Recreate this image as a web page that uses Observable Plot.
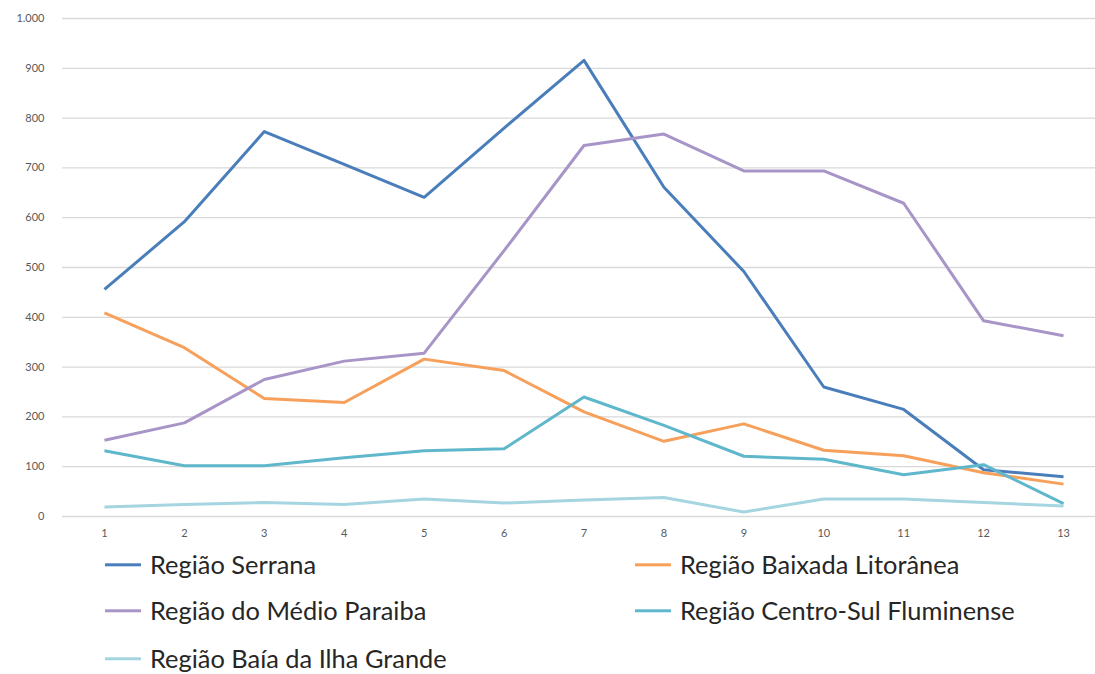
<!DOCTYPE html>
<html><head><meta charset="utf-8">
<script src="https://cdn.jsdelivr.net/npm/d3@7"></script>
<script src="https://cdn.jsdelivr.net/npm/@observablehq/plot@0.6"></script>
<style>
body{margin:0;background:#fff;font-family:Lato, "Open Sans", sans-serif;}
#chart svg{display:block;}
#legend{position:relative;height:129px;width:1095px;}
.item{position:absolute;display:flex;align-items:center;font-size:25.4px;color:#262626;line-height:1;white-space:nowrap;transform:translateY(-50%);}
.item .sw{display:inline-block;width:36px;height:3px;margin-right:9px;}
</style></head><body><div id="chart"></div><div id="legend"></div>
<script>
const periods = [1,2,3,4,5,6,7,8,9,10,11,12,13];
const seriesNames = ["Região Serrana","Região Baixada Litorânea","Região do Médio Paraiba","Região Centro-Sul Fluminense","Região Baía da Ilha Grande"];
const seriesColors = ["#4a7ebb","#f7a05b","#a895c8","#5fb7cc","#a5d5e0"];
const serrana = [456,592,773,707,641,780,916,661,492,260,215,94,80];
const baixada = [409,339,237,229,316,293,210,151,186,133,122,88,65];
const medioParaiba = [153,188,275,312,328,534,745,768,694,694,629,393,363];
const centroSul = [132,102,102,118,132,136,240,183,121,115,84,104,26];
const baiaIlhaGrande = [19,24,28,24,35,27,33,38,9,35,35,28,21];
const yTicks = [0,100,200,300,400,500,600,700,800,900,1000];

const seriesValues = [serrana, baixada, medioParaiba, centroSul, baiaIlhaGrande];
const data = seriesNames.flatMap((name, s) => seriesValues[s].map((v, i) => ({serie: name, periodo: periods[i], valor: v})));
const fmt = d3.formatLocale({decimal: ",", thousands: ".", grouping: [3], currency: ["R$", ""]}).format(",");

const chart = Plot.plot({
  width: 1095, height: 545,
  marginLeft: 62, marginRight: 0, marginTop: 18, marginBottom: 29,
  style: {fontFamily: "Lato, 'Open Sans', sans-serif", background: "#fff"},
  x: {type: "linear", domain: [0.5, 13.5], range: [64, 1103]},
  y: {domain: [0, 1000]},
  color: {domain: seriesNames, range: seriesColors},
  marks: [
    Plot.ruleY(yTicks, {stroke: "#d9d9d9", strokeWidth: 1.3}),
    Plot.axisY({ticks: yTicks, tickSize: 0, tickPadding: 18, tickFormat: fmt, fontSize: 11, fill: "#595959", label: null}),
    Plot.axisX({ticks: periods, tickSize: 0, tickPadding: 13, tickFormat: d => String(d), fontSize: 11, fill: "#595959", label: null}),
    Plot.line(data, {x: "periodo", y: "valor", z: "serie", stroke: "serie", strokeWidth: 3, strokeLinejoin: "round", strokeLinecap: "butt"})
  ]
});
document.getElementById("chart").appendChild(chart);

const legendPos = [[105, 20], [635, 20], [105, 66], [635, 66], [105, 114]];
const legend = document.getElementById("legend");
seriesNames.forEach((name, i) => {
  const it = document.createElement("div");
  it.className = "item";
  it.style.left = legendPos[i][0] + "px";
  it.style.top = legendPos[i][1] + "px";
  const sw = document.createElement("span");
  sw.className = "sw";
  sw.style.background = seriesColors[i];
  it.appendChild(sw);
  it.appendChild(document.createTextNode(name));
  legend.appendChild(it);
});
</script>
</body></html>
